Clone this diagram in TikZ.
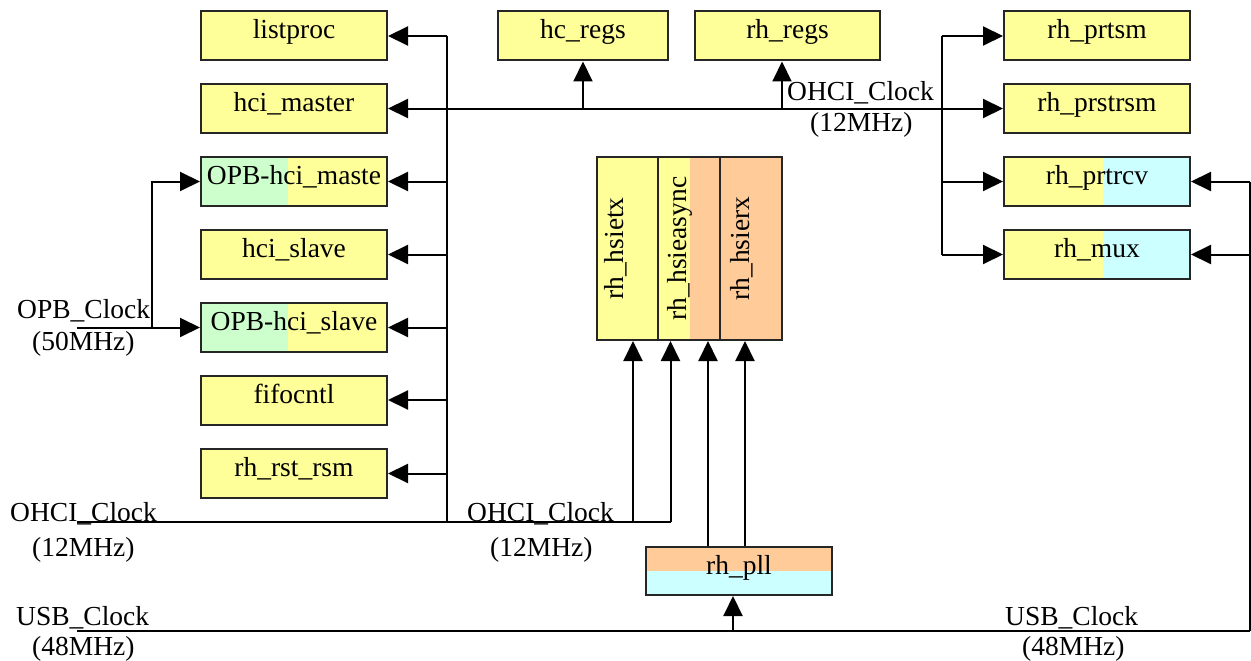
\documentclass[tikz,border=0pt]{standalone}
\usepackage{fontspec}
\setmainfont{Liberation Serif}
\usetikzlibrary{arrows.meta,calc}
\definecolor{yel}{HTML}{FFFF99}
\definecolor{grn}{HTML}{CCFFCC}
\definecolor{pch}{HTML}{FFCC99}
\definecolor{cyn}{HTML}{CCFFFF}
\begin{document}
\begin{tikzpicture}[x=1pt,y=-1pt,
  txt/.style={font=\fontsize{27.5}{30}\selectfont},
  box/.style={txt,draw=black!85,line width=2pt,fill=yel,minimum width=186pt,minimum height=49pt,inner sep=0pt,text height=18pt,text depth=12pt},
  leftsplit/.style 2 args={path picture={\fill[#1] (path picture bounding box.south west) rectangle ($(path picture bounding box.north west)!#2!(path picture bounding box.north east)$);}},
  vbox/.style={draw=black!85,line width=2pt,fill=yel,minimum height=183pt,inner sep=0pt},
  vlbl/.style={txt,rotate=90,anchor=base,inner sep=0pt},
  lbl/.style={txt,anchor=base west,inner sep=0pt},
  wire/.style={line width=2pt},
  arr/.style={wire,-{Triangle[length=20pt,width=19pt]}},
  arrboth/.style={wire,{Triangle[length=20pt,width=19pt]}-{Triangle[length=20pt,width=19pt]}},
]
\useasboundingbox (0,0) rectangle (1251,661);

% left column
\node[box] (lp) at (294,36) {listproc};
\node[box] (hm) at (294,108.5) {hci\_master};
\node[box,fill=yel,leftsplit={grn}{0.47}] (opbm) at (294,181.5) {OPB-hci\_maste};
\node[box] (hs) at (294,254.5) {hci\_slave};
\node[box,fill=yel,leftsplit={grn}{0.47}] (opbs) at (294,327.5) {OPB-hci\_slave};
\node[box] (fifo) at (294,400) {fifocntl};
\node[box] (rst) at (294,473.5) {rh\_rst\_rsm};

% top middle
\node[box,minimum width=170pt] (hcregs) at (583,36) {hc\_regs};
\node[box,minimum width=185pt] (rhregs) at (787.5,36) {rh\_regs};

% right column
\node[box] (prtsm) at (1097,36) {rh\_prtsm};
\node[box] (prstrsm) at (1097,108.5) {rh\_prstrsm};
\node[box,fill=cyn,leftsplit={yel}{0.53}] (prtrcv) at (1097,181.5) {rh\_prtrcv};
\node[box,fill=cyn,leftsplit={yel}{0.53}] (mux) at (1097,254.5) {rh\_mux};

% middle block
\node[vbox,minimum width=61pt] (tx) at (627.5,248.5) {};
\node[vbox,minimum width=62pt,fill=pch,leftsplit={yel}{0.52}] (async) at (689,248.5) {};
\node[vbox,minimum width=62pt,fill=pch] (rx) at (751,248.5) {};
\node[vlbl] (txl) at (623,248.5) {rh\_hsietx};
\node[vlbl] (asyncl) at (686,248.5) {rh\_hsieasync};
\node[vlbl] (rxl) at (749,248.5) {rh\_hsierx};

% pll
\node[box,minimum height=48pt,fill=cyn,path picture={\fill[pch] (path picture bounding box.north west) rectangle (path picture bounding box.east);}] (pll) at (739,571) {rh\_pll};

% bus coordinates
\coordinate (busL) at (447,0);
\coordinate (busR) at (942,0);
\coordinate (busUSB) at (1250,0);
\coordinate (ohciL) at (77,521.5);
\coordinate (ohciM) at (670.5,521.5);
\coordinate (usbL) at (77,631);
\coordinate (usbR) at (1250,631);
\coordinate (opbL) at (77,327.5);
\coordinate (opbV) at (151.5,327.5);
\coordinate (xa) at (633,0);
\coordinate (xc) at (708,0);
\coordinate (xd) at (745,0);
\coordinate (xp) at (733,0);
\coordinate (xr) at (782,0);

% left bus
\draw[wire] (busL|-lp.east) -- (busL|-ohciL);
\foreach \n in {lp,opbm,hs,opbs,fifo,rst}{
  \draw[arr] (busL|-\n.east) -- (\n.east);
}
\draw[wire] (ohciL) -- (ohciM);
\draw[arr] (xa|-ohciL) -- (xa|-tx.south);
\draw[arr] (ohciM) -- (ohciM|-async.south);

% top OHCI line
\draw[arrboth] (hm.east) -- (prstrsm.west);
\draw[arr] (hcregs.south|-hm.east) -- (hcregs.south);
\draw[arr] (xr|-hm.east) -- (xr|-rhregs.south);

% right bus
\draw[wire] (busR|-prtsm.west) -- (busR|-mux.west);
\draw[arr] (busR|-prtsm.west) -- (prtsm.west);
\draw[arr] (busR|-prtrcv.west) -- (prtrcv.west);
\draw[arr] (busR|-mux.west) -- (mux.west);

% OPB clock
\draw[arr] (opbL) -- (opbs.west);
\draw[arr] (opbV) |- (opbm.west);

% USB clock
\draw[wire] (usbL) -- (usbR);
\draw[wire] (usbR) -- (busUSB|-prtrcv.east);
\draw[arr] (busUSB|-prtrcv.east) -- (prtrcv.east);
\draw[arr] (busUSB|-mux.east) -- (mux.east);
\draw[arr] (xp|-usbL) -- (xp|-pll.south);

% pll to middle block
\draw[arr] (xc|-pll.north) -- (xc|-async.south);
\draw[arr] (xd|-pll.north) -- (xd|-rx.south);

% labels
\node[lbl] (opbc) at (17,318) {OPB\_Clock};
\node[lbl] (opbf) at (32,350) {(50MHz)};
\node[lbl] (ohc1) at (10,521.5) {OHCI\_Clock};
\node[lbl] (ohf1) at (32,556) {(12MHz)};
\node[lbl] (ohc2) at (467,521.5) {OHCI\_Clock};
\node[lbl] (ohf2) at (490,556) {(12MHz)};
\node[lbl] (ohc3) at (787,100) {OHCI\_Clock};
\node[lbl] (ohf3) at (810,131) {(12MHz)};
\node[lbl] (usc1) at (16,625) {USB\_Clock};
\node[lbl] (usf1) at (32,655) {(48MHz)};
\node[lbl] (usc2) at (1005,625) {USB\_Clock};
\node[lbl] (usf2) at (1022,655) {(48MHz)};
\end{tikzpicture}
\end{document}
